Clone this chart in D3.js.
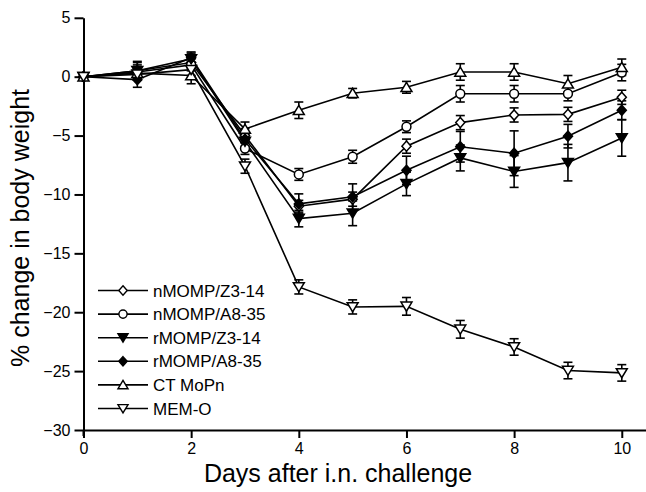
<!DOCTYPE html>
<html>
<head>
<meta charset="utf-8">
<script src="https://cdn.jsdelivr.net/npm/d3@7"></script>
<style>
  html, body { margin: 0; padding: 0; background: #fff; }
  svg { display: block; font-family: "Liberation Sans", Arial, sans-serif; }
</style>
</head>
<body>
<div id="chart"></div>
<script>
// days after challenge
const days = [0, 1, 2, 3, 4, 5, 6, 7, 8, 9, 10];

const seriesNames = ['nMOMP/Z3-14', 'nMOMP/A8-35', 'rMOMP/Z3-14', 'rMOMP/A8-35', 'CT MoPn', 'MEM-O'];

// mean % change in body weight
const nMompZ3 = [0, 0.5, 1.2, -5.0, -11.0, -10.4, -5.9, -3.9, -3.25, -3.2, -1.75];
const nMompA8 = [0, 0.4, 1.0, -6.1, -8.3, -6.8, -4.25, -1.45, -1.45, -1.45, 0.35];
const rMompZ3 = [0, 0.5, 1.5, -5.5, -12.05, -11.6, -9.1, -6.9, -8.05, -7.3, -5.2];
const rMompA8 = [0, -0.25, 1.6, -5.3, -10.8, -10.2, -7.95, -5.95, -6.5, -5.05, -2.85];
const ctMoPn = [0, 0.3, 0.1, -4.45, -2.85, -1.4, -0.9, 0.4, 0.4, -0.6, 0.8];
const memO = [0, 0.2, 0.6, -7.6, -17.85, -19.55, -19.5, -21.45, -22.95, -24.95, -25.15];

// error bar half-lengths (SE)
const nMompZ3Err = [0, 0.8, 0.5, 0.6, 0.5, 0.6, 0.6, 0.6, 0.6, 0.6, 0.6];
const nMompA8Err = [0, 0.6, 0.5, 0.5, 0.5, 0.55, 0.5, 0.7, 0.7, 0.6, 0.7];
const rMompZ3Err = [0, 0.7, 0.5, 0.6, 0.7, 1.05, 1.0, 1.1, 1.35, 1.55, 1.55];
const rMompA8Err = [0, 0.65, 0.5, 0.6, 0.85, 1.1, 1.2, 1.3, 1.9, 1.0, 0.8];
const ctMoPnErr = [0, 0.5, 0.7, 0.6, 0.7, 0.4, 0.5, 0.7, 0.7, 0.7, 0.7];
const memOErr = [0, 0.5, 0.5, 0.6, 0.6, 0.6, 0.75, 0.75, 0.7, 0.7, 0.7];

const xTicks = [0, 2, 4, 6, 8, 10];
const yTicks = [5, 0, -5, -10, -15, -20, -25, -30];

const width = 646, height = 492;

// custom diamond (square turned 45deg, a bit taller than wide)
const diamond = {
  draw(ctx, size) {
    const h = Math.sqrt(size) * 0.78, w = h * 0.9;
    ctx.moveTo(0, -h); ctx.lineTo(w, 0); ctx.lineTo(0, h); ctx.lineTo(-w, 0); ctx.closePath();
  }
};
const triDown = {
  draw(ctx, size) {
    const s = Math.sqrt(size);
    ctx.moveTo(-s * 0.62, -s * 0.48); ctx.lineTo(s * 0.62, -s * 0.48); ctx.lineTo(0, s * 0.55); ctx.closePath();
  }
};
const triUp = {
  draw(ctx, size) {
    const s = Math.sqrt(size);
    ctx.moveTo(-s * 0.62, s * 0.48); ctx.lineTo(s * 0.62, s * 0.48); ctx.lineTo(0, -s * 0.55); ctx.closePath();
  }
};

const series = [
  { name: seriesNames[0], values: nMompZ3, err: nMompZ3Err, type: diamond, size: 42, fill: '#fff' },
  { name: seriesNames[1], values: nMompA8, err: nMompA8Err, type: d3.symbolCircle, size: 62, fill: '#fff' },
  { name: seriesNames[2], values: rMompZ3, err: rMompZ3Err, type: triDown, size: 78, fill: '#000' },
  { name: seriesNames[3], values: rMompA8, err: rMompA8Err, type: diamond, size: 42, fill: '#000' },
  { name: seriesNames[4], values: ctMoPn, err: ctMoPnErr, type: triUp, size: 78, fill: '#fff' },
  { name: seriesNames[5], values: memO, err: memOErr, type: triDown, size: 78, fill: '#fff' }
];

const svg = d3.select('#chart').append('svg')
  .attr('width', width)
  .attr('height', height);

const x = d3.scaleLinear().domain([0, 10.45]).range([83.5, 646]);
const y = d3.scaleLinear().domain([-30, 5]).range([430, 17.8]);

// axes
const xAxis = svg.append('g')
  .attr('transform', `translate(0,${y(-30)})`)
  .call(d3.axisBottom(x).tickValues(xTicks).tickSize(8).tickSizeOuter(0).tickPadding(5));
const yAxis = svg.append('g')
  .attr('transform', `translate(${x(0)},0)`)
  .call(d3.axisLeft(y).tickValues(yTicks).tickSize(9).tickSizeOuter(0).tickPadding(4));

[xAxis, yAxis].forEach(g => {
  g.selectAll('path, line').attr('stroke', '#000').attr('stroke-width', 2);
  g.selectAll('text').attr('fill', '#000').style('font-size', '16px');
});
// y axis runs a little below the x axis
svg.append('line')
  .attr('x1', x(0)).attr('x2', x(0))
  .attr('y1', y(-30)).attr('y2', y(-30) + 6)
  .attr('stroke', '#000').attr('stroke-width', 2);

// error bars
const capW = 4.5;
const errG = svg.append('g').attr('stroke', '#000').attr('stroke-width', 1.6).attr('fill', 'none');
series.forEach(s => {
  days.forEach((d, i) => {
    if (!s.err[i]) return;
    const cx = x(d), lo = y(s.values[i] - s.err[i]), hi = y(s.values[i] + s.err[i]);
    errG.append('line').attr('x1', cx).attr('x2', cx).attr('y1', lo).attr('y2', hi);
    errG.append('line').attr('x1', cx - capW).attr('x2', cx + capW).attr('y1', lo).attr('y2', lo);
    errG.append('line').attr('x1', cx - capW).attr('x2', cx + capW).attr('y1', hi).attr('y2', hi);
  });
});

// lines
const line = d3.line().x((d, i) => x(days[i])).y(d => y(d));
svg.append('g').selectAll('path')
  .data(series)
  .join('path')
  .attr('d', s => line(s.values))
  .attr('fill', 'none')
  .attr('stroke', '#000')
  .attr('stroke-width', 1.6);

// markers
series.forEach(s => {
  const sym = d3.symbol().type(s.type).size(s.size);
  svg.append('g').selectAll('path')
    .data(s.values)
    .join('path')
    .attr('transform', (v, i) => `translate(${x(days[i])},${y(v)})`)
    .attr('d', sym)
    .attr('fill', s.fill)
    .attr('stroke', '#000')
    .attr('stroke-width', 1.5);
});

// legend
const legend = svg.append('g');
series.forEach((s, i) => {
  const ly = 290.5 + i * 23.6;
  legend.append('line')
    .attr('x1', 98).attr('x2', 148).attr('y1', ly).attr('y2', ly)
    .attr('stroke', '#000').attr('stroke-width', 1.6);
  legend.append('path')
    .attr('transform', `translate(123,${ly})`)
    .attr('d', d3.symbol().type(s.type).size(s.size * 0.85)())
    .attr('fill', s.fill)
    .attr('stroke', '#000')
    .attr('stroke-width', 1.4);
  legend.append('text')
    .attr('x', 153).attr('y', ly).attr('dy', '0.36em')
    .style('font-size', '17px')
    .text(s.name);
});

// axis titles
svg.append('text')
  .attr('x', 338).attr('y', 482)
  .attr('text-anchor', 'middle')
  .style('font-size', '25px')
  .text('Days after i.n. challenge');

svg.append('text')
  .attr('transform', `translate(29,228) rotate(-90)`)
  .attr('text-anchor', 'middle')
  .style('font-size', '25px')
  .text('% change in body weight');
</script>
</body>
</html>
